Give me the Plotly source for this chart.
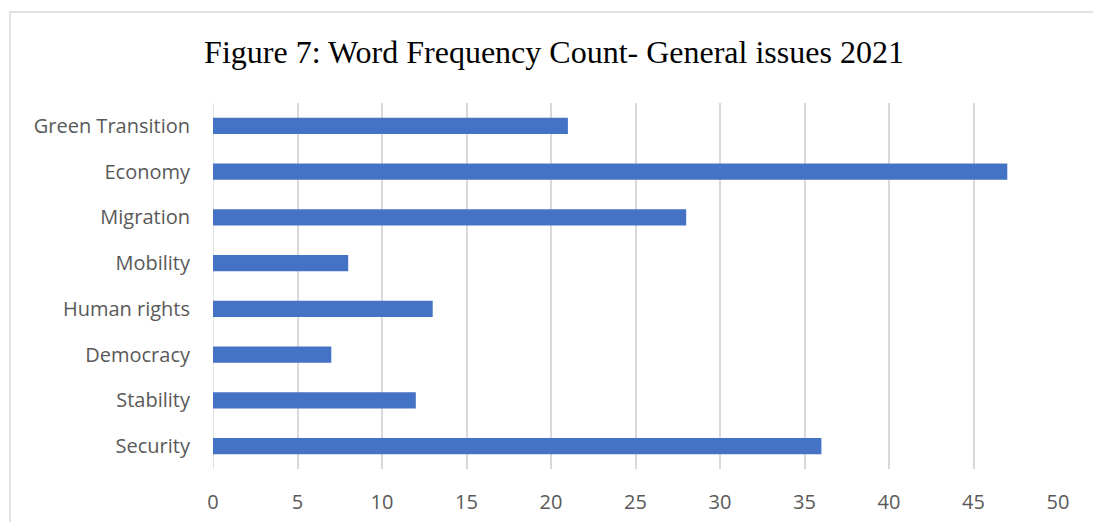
import plotly.graph_objects as go

# Word frequency counts per general issue, 2021
categories = ["Security", "Stability", "Democracy", "Human rights",
              "Mobility", "Migration", "Economy", "Green Transition"]
counts = [36, 12, 7, 13, 8, 28, 47, 21]
x_ticks = [0, 5, 10, 15, 20, 25, 30, 35, 40, 45, 50]

W, H = 1093, 522
L, R, T, B = 213, 35, 103, 53
pw, ph = W - L - R, H - T - B

fig = go.Figure(go.Bar(
    x=counts, y=categories, orientation="h",
    marker=dict(color="#4472C4", line=dict(width=0)),
    hoverinfo="x+y",
))

fig.update_layout(
    width=W, height=H,
    margin=dict(l=L, r=R, t=T, b=B),
    paper_bgcolor="white", plot_bgcolor="white",
    bargap=0.65,
    showlegend=False,
    title=dict(
        text="Figure 7: Word Frequency Count- General issues 2021",
        font=dict(family="Liberation Serif", size=32, color="black"),
        x=554 / W, xanchor="center", xref="container",
        y=1 - 52 / H, yanchor="middle", yref="container",
    ),
    xaxis=dict(
        range=[0, 50], tickvals=x_ticks, ticktext=[str(v) for v in x_ticks],
        showgrid=True, gridcolor="#d9d9d9", gridwidth=1.5,
        zeroline=False, showline=False, ticks="",
        ticklabelstandoff=19, automargin=False,
        tickfont=dict(family="Open Sans", size=20, color="#595959"),
    ),
    yaxis=dict(
        showgrid=False, zeroline=False, showline=False, ticks="",
        ticklabelstandoff=22, automargin=False,
        tickfont=dict(family="Open Sans", size=20, color="#595959"),
    ),
    shapes=[
        # light frame around the chart area
        dict(type="rect", xref="paper", yref="paper",
             x0=(10 - L) / pw, x1=(W + 20 - L) / pw,
             y0=-(H + 20 - (H - B)) / ph, y1=(H - B - 12) / ph,
             line=dict(color="#d9d9d9", width=1.5), fillcolor="rgba(0,0,0,0)",
             layer="below"),
        # vertical line at zero
        dict(type="line", xref="x", yref="paper", x0=0, x1=0, y0=0, y1=1,
             line=dict(color="#d9d9d9", width=1.5), layer="below"),
    ],
)

fig.write_html("out.html")
